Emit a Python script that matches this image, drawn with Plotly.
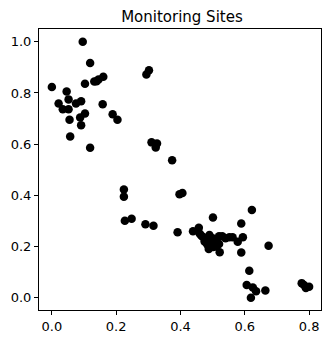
import plotly.graph_objects as go

# site coordinates
site_x = [0.000, 0.096, 0.119, 0.021, 0.046, 0.034, 0.052, 0.052, 0.075, 0.091,
          0.055, 0.088, 0.091, 0.103, 0.057, 0.119, 0.103, 0.132, 0.145, 0.160,
          0.139, 0.158, 0.189, 0.204, 0.294, 0.302, 0.310, 0.327, 0.323, 0.374,
          0.397, 0.406, 0.224, 0.224, 0.227, 0.248, 0.291, 0.316, 0.391, 0.439,
          0.457, 0.501, 0.589, 0.622, 0.674, 0.589, 0.614, 0.606, 0.619, 0.625,
          0.635, 0.664, 0.777, 0.790, 0.800, 0.784, 0.460, 0.470, 0.478, 0.485,
          0.490, 0.500, 0.510, 0.520, 0.482, 0.502, 0.520, 0.522, 0.530, 0.552,
          0.562, 0.578, 0.594, 0.465, 0.475, 0.500, 0.488, 0.512, 0.495, 0.540]
site_y = [0.823, 1.000, 0.917, 0.759, 0.806, 0.736, 0.775, 0.736, 0.759, 0.768,
          0.695, 0.704, 0.674, 0.720, 0.630, 0.586, 0.836, 0.845, 0.853, 0.863,
          0.846, 0.756, 0.717, 0.695, 0.872, 0.889, 0.607, 0.603, 0.587, 0.537,
          0.404, 0.409, 0.423, 0.395, 0.301, 0.309, 0.287, 0.281, 0.256, 0.260,
          0.273, 0.313, 0.290, 0.343, 0.203, 0.177, 0.105, 0.050, 0.000, 0.040,
          0.025, 0.028, 0.057, 0.038, 0.043, 0.050, 0.250, 0.237, 0.225, 0.205,
          0.245, 0.215, 0.228, 0.240, 0.212, 0.198, 0.210, 0.178, 0.240, 0.236,
          0.236, 0.219, 0.236, 0.242, 0.220, 0.232, 0.190, 0.200, 0.222, 0.232]

fig = go.Figure()
fig.add_trace(go.Scatter(
    x=site_x,
    y=site_y,
    mode='markers',
    marker=dict(color='black', size=8.5, line=dict(width=0))
))

axis_style = dict(
    showgrid=False,
    zeroline=False,
    showline=True,
    linecolor='black',
    linewidth=1,
    mirror=True,
    ticks='outside',
    ticklen=4,
    tickcolor='black',
    tickfont=dict(family='DejaVu Sans', size=13, color='black'),
)

fig.update_layout(
    width=332,
    height=344,
    title=dict(text='Monitoring Sites', x=0.548, xanchor='center', y=0.952, yanchor='middle',
               font=dict(family='DejaVu Sans', size=15, color='black')),
    xaxis=dict(range=[-0.040, 0.837], tickvals=[0, 0.2, 0.4, 0.6, 0.8],
               ticktext=['0.0', '0.2', '0.4', '0.6', '0.8'], **axis_style),
    yaxis=dict(range=[-0.048, 1.050], tickvals=[0, 0.2, 0.4, 0.6, 0.8, 1.0],
               ticktext=['0.0', '0.2', '0.4', '0.6', '0.8', '1.0'], **axis_style),
    margin=dict(l=39, r=10, t=29, b=32),
    plot_bgcolor='white',
    paper_bgcolor='white',
    showlegend=False,
)

# drop the default page margin so the figure sits at the window origin
fig.write_html("out.html", config={'displayModeBar': False},
               post_script="document.body.style.margin='0';")
